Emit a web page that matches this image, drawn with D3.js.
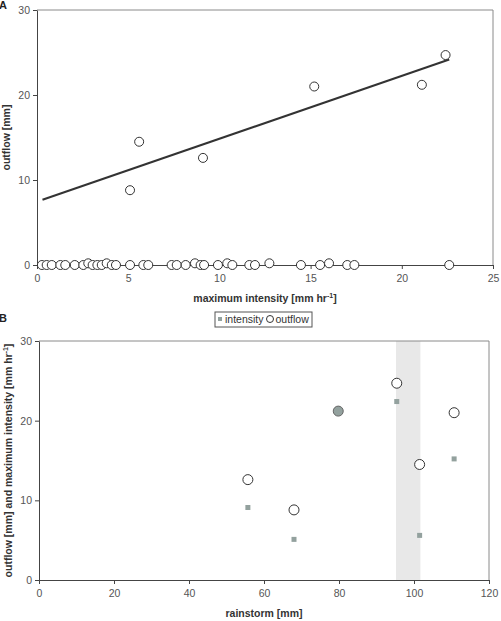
<!DOCTYPE html>
<html>
<head>
<meta charset="utf-8">
<script src="https://cdn.jsdelivr.net/npm/d3@7"></script>
<style>
  body { margin: 0; background: #fff; }
  text { font-family: "Liberation Sans", Arial, sans-serif; }
  .tick text { fill: #555; font-size: 10.5px; }
  .axis-label { font-weight: bold; font-size: 10.5px; fill: #333; text-anchor: middle; }
  .panel-label { font-weight: bold; font-size: 11px; fill: #222; }
</style>
</head>
<body>
<svg width="501" height="621"></svg>
<script>
// storms with runoff: max intensity [mm/hr], outflow [mm], rainstorm [mm]
const stormIntensity = [9.1, 5.1, 21.1, 22.4, 5.6, 15.2];
const stormOutflow   = [12.6, 8.8, 21.2, 24.7, 14.5, 21.0];
const stormRain      = [55.7, 68.0, 79.8, 95.4, 101.5, 110.7];

// storms with no runoff (intensity, tiny outflow)
const dryIntensity = [0.27, 0.53, 0.81, 1.28, 1.55, 2.07, 2.54, 2.81, 3.05, 3.31, 3.55, 3.82,
  4.10, 4.33, 5.10, 5.83, 6.10, 7.38, 7.66, 8.15, 8.66, 8.97, 9.16, 9.92, 10.43, 10.71,
  11.64, 11.95, 12.74, 14.47, 15.52, 16.01, 17.01, 17.40, 22.60];
const dryOutflow = [0, 0, 0, 0, 0, 0, 0, 0.2, 0, 0, 0, 0.2,
  0, 0, 0, 0, 0, 0, 0, 0, 0.2, 0, 0, 0, 0.2, 0,
  0, 0, 0.2, 0, 0, 0.2, 0, 0, 0];

const trendRange = [0.3, 22.6];
const bandRange = [95.2, 101.7];

const xTicksA = [0, 5, 10, 15, 20, 25];
const yTicksA = [0, 10, 20, 30];
const xTicksB = [0, 20, 40, 60, 80, 100, 120];
const yTicksB = [0, 10, 20, 30];

const svg = d3.select('svg');
const markGray = '#93a19e';

function frame(g, w, h) {
  g.append('path')
    .attr('d', `M0,0H${w}V${h}`)
    .attr('fill', 'none')
    .attr('stroke', '#8a8a8a');
}

function axes(g, x, y, xt, yt, h) {
  const xa = g.append('g')
    .attr('transform', `translate(0,${h})`)
    .call(d3.axisBottom(x).tickValues(xt).tickSize(4).tickSizeOuter(0).tickPadding(6));
  const ya = g.append('g')
    .call(d3.axisLeft(y).tickValues(yt).tickSize(4).tickSizeOuter(0).tickPadding(3));
  [xa, ya].forEach(a => {
    a.select('.domain').attr('stroke', '#444');
    a.selectAll('.tick line').attr('stroke', '#444');
  });
}

// ---- panel A ----
const mA = { left: 37, top: 10 };
const wA = 456, hA = 255;
const gA = svg.append('g').attr('transform', `translate(${mA.left},${mA.top})`);
const xA = d3.scaleLinear().domain([0, 25]).range([0, wA]);
const yA = d3.scaleLinear().domain([0, 30]).range([hA, 0]);

frame(gA, wA, hA);
axes(gA, xA, yA, xTicksA, yTicksA, hA);

// least-squares fit on storms with runoff
const mx = d3.mean(stormIntensity), my = d3.mean(stormOutflow);
const slope = d3.sum(stormIntensity, (v, i) => (v - mx) * (stormOutflow[i] - my)) /
  d3.sum(stormIntensity, v => (v - mx) * (v - mx));
const icpt = my - slope * mx;
gA.append('line')
  .attr('x1', xA(trendRange[0])).attr('y1', yA(icpt + slope * trendRange[0]))
  .attr('x2', xA(trendRange[1])).attr('y2', yA(icpt + slope * trendRange[1]))
  .attr('stroke', '#333').attr('stroke-width', 2);

const ptsA = dryIntensity.map((v, i) => ({ x: v, y: dryOutflow[i] }))
  .concat(stormIntensity.map((v, i) => ({ x: v, y: stormOutflow[i] })));
gA.selectAll('circle.pt').data(ptsA)
  .enter().append('circle')
    .attr('class', 'pt')
    .attr('cx', d => xA(d.x))
    .attr('cy', d => yA(d.y))
    .attr('r', 4.5)
    .attr('fill', '#fff')
    .attr('stroke', '#333')
    .attr('stroke-width', 1);

gA.append('text').attr('class', 'axis-label')
  .attr('x', wA / 2).attr('y', 292)
  .html('maximum intensity [mm hr<tspan dy="-4" font-size="7">-1</tspan><tspan dy="4">]</tspan>');
gA.append('text').attr('class', 'axis-label')
  .attr('transform', `translate(-27,${hA / 2}) rotate(-90)`)
  .text('outflow [mm]');
svg.append('text').attr('class', 'panel-label').attr('x', -1).attr('y', 9).text('A');

// legend
const lg = svg.append('g').attr('transform', 'translate(215,312)');
lg.append('rect').attr('width', 97).attr('height', 15)
  .attr('fill', '#fff').attr('stroke', '#555');
lg.append('rect').attr('x', 3).attr('y', 5).attr('width', 4).attr('height', 4).attr('fill', markGray);
lg.append('text').attr('x', 10).attr('y', 11).attr('font-size', 10.5).attr('fill', '#333').text('intensity');
lg.append('circle').attr('cx', 55).attr('cy', 7).attr('r', 3.5)
  .attr('fill', '#fff').attr('stroke', '#333');
lg.append('text').attr('x', 60.5).attr('y', 11).attr('font-size', 10.5).attr('fill', '#333').text('outflow');

// ---- panel B ----
const mB = { left: 39, top: 341 };
const wB = 450, hB = 239;
const gB = svg.append('g').attr('transform', `translate(${mB.left},${mB.top})`);
const xB = d3.scaleLinear().domain([0, 120]).range([0, wB]);
const yB = d3.scaleLinear().domain([0, 30]).range([hB, 0]);

gB.append('rect')
  .attr('x', xB(bandRange[0])).attr('y', 0)
  .attr('width', xB(bandRange[1]) - xB(bandRange[0])).attr('height', hB)
  .attr('fill', '#e8e8e8');

frame(gB, wB, hB);
axes(gB, xB, yB, xTicksB, yTicksB, hB);

const ptsB = stormRain.map((r, i) => ({ r, q: stormOutflow[i], p: stormIntensity[i] }));
const overlap = d => Math.abs(d.q - d.p) < 0.5;
gB.selectAll('circle.out').data(ptsB)
  .enter().append('circle')
    .attr('class', 'out')
    .attr('cx', d => xB(d.r))
    .attr('cy', d => yB(d.q))
    .attr('r', 5)
    .attr('fill', d => overlap(d) ? markGray : '#fff')
    .attr('stroke', d => overlap(d) ? '#666' : '#333')
    .attr('stroke-width', 1);
gB.selectAll('rect.int').data(ptsB.filter(d => !overlap(d)))
  .enter().append('rect')
    .attr('class', 'int')
    .attr('x', d => xB(d.r) - 2.5)
    .attr('y', d => yB(d.p) - 2.5)
    .attr('width', 5).attr('height', 5)
    .attr('fill', markGray);

gB.append('text').attr('class', 'axis-label')
  .attr('x', wB / 2).attr('y', hB + 37)
  .text('rainstorm [mm]');
gB.append('text').attr('class', 'axis-label')
  .attr('transform', `translate(-27,${hB / 2}) rotate(-90)`)
  .html('outflow [mm] and maximum intensity [mm hr<tspan dy="-4" font-size="7">-1</tspan><tspan dy="4">]</tspan>');
svg.append('text').attr('class', 'panel-label').attr('x', -1).attr('y', 322).text('B');
</script>
</body>
</html>
